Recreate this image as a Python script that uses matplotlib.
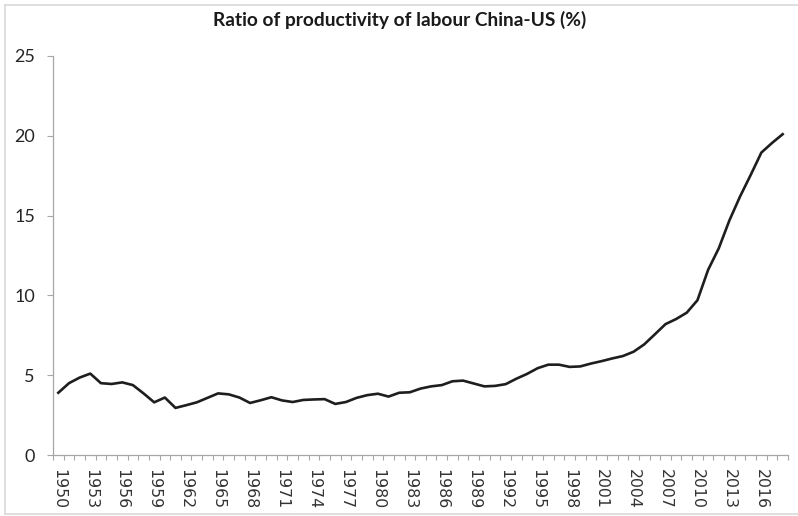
import matplotlib
matplotlib.use('Agg')
import matplotlib.pyplot as plt
from matplotlib.lines import Line2D
from matplotlib.ticker import FixedLocator

years = list(range(1950, 2019))
ratio = [3.9, 4.5, 4.85, 5.1, 4.5, 4.45, 4.55, 4.38, 3.86, 3.3,
         3.6, 2.95, 3.12, 3.3, 3.58, 3.86, 3.8, 3.6, 3.26, 3.43,
         3.62, 3.42, 3.32, 3.45, 3.48, 3.5, 3.2, 3.32, 3.58, 3.75,
         3.84, 3.66, 3.9, 3.93, 4.16, 4.3, 4.38, 4.62, 4.66, 4.48,
         4.3, 4.33, 4.44, 4.78, 5.08, 5.44, 5.66, 5.66, 5.52, 5.55,
         5.73, 5.88, 6.05, 6.2, 6.47, 6.93, 7.56, 8.2, 8.52, 8.92,
         9.7, 11.6, 12.95, 14.7, 16.2, 17.55, 18.95, 19.55, 20.1]
label_years = list(range(1950, 2017, 3))
y_ticks = [0, 5, 10, 15, 20, 25]
title = 'Ratio of productivity of labour China-US (%)'

fig = plt.figure(figsize=(7.98, 5.16), dpi=100)
ax = fig.add_axes([53 / 798, 61 / 516, 735 / 798, 399 / 516])

ax.plot(years, ratio, color='#1e1e1e', lw=1.9, solid_joinstyle='round')

ax.set_xlim(1949.5, 2018.5)
ax.set_ylim(0, 25)
ax.set_yticks(y_ticks)
ax.set_yticklabels([str(v) for v in y_ticks], fontfamily='Lato', fontsize=13, color='#262626')

ax.xaxis.set_major_locator(FixedLocator(label_years))
ax.xaxis.set_minor_locator(FixedLocator([y - 0.5 for y in years] + [2018.5]))
ax.set_xticklabels([str(y) for y in label_years], rotation=-90, fontfamily='DejaVu Sans',
                   fontsize=11.3, color='#333333', va='top', ha='center')

ax.tick_params(axis='x', which='major', length=0, pad=10)
ax.tick_params(axis='x', which='minor', length=3.5, color='#a6a6a6', width=0.8, direction='out')
ax.tick_params(axis='y', length=4, color='#a6a6a6', width=0.8, pad=9)

for s in ['top', 'right']:
    ax.spines[s].set_visible(False)
for s in ['left', 'bottom']:
    ax.spines[s].set_color('#a6a6a6')
    ax.spines[s].set_linewidth(0.9)

fig.text(400 / 798, 1 - 20 / 516, title, ha='center', va='center',
         fontfamily='Lato', fontweight='bold', fontsize=13.8, color='#1a1a1a')

# chart area border (cropped on the right)
bc = '#d9d9d9'
fig.add_artist(Line2D([5 / 798, 5 / 798], [2 / 516, 1 - 5 / 516], transform=fig.transFigure, color=bc, lw=1.2))
fig.add_artist(Line2D([5 / 798, 1], [1 - 5 / 516, 1 - 5 / 516], transform=fig.transFigure, color=bc, lw=1.2))
fig.add_artist(Line2D([5 / 798, 1], [2 / 516, 2 / 516], transform=fig.transFigure, color=bc, lw=1.2))

fig.savefig('out.png', dpi=100)
